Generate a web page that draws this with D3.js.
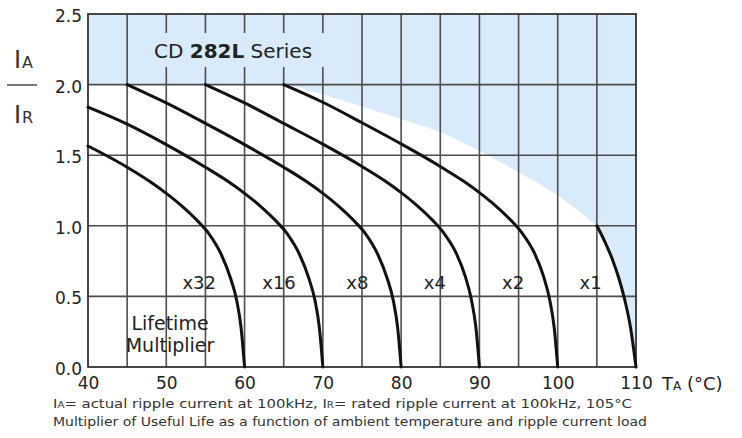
<!DOCTYPE html>
<html>
<head>
<meta charset="utf-8">
<script src="https://cdn.jsdelivr.net/npm/d3@7/dist/d3.min.js"></script>
<style>
  html, body { margin: 0; padding: 0; background: #fff; }
  svg { display: block; font-family: "DejaVu Sans", sans-serif; }
</style>
</head>
<body>
<svg id="chart" width="742" height="438"></svg>
<script>
// ---- data ----
const tempTicks = [40, 50, 60, 70, 80, 90, 100, 110];
const tempGrid = [45, 50, 55, 60, 65, 70, 75, 80, 85, 90, 95, 100, 105];
const ratioTicks = [0.0, 0.5, 1.0, 1.5, 2.0, 2.5];
const ratioGrid = [0.5, 1.0, 1.5, 2.0];

const multipliers = ["x32", "x16", "x8", "x4", "x2", "x1"];
const labelTemps = [54.2, 64.4, 74.4, 84.3, 94.3, 104.2];
const labelRatio = 0.6;

// curves: [temperature °C, IA/IR]
const curveX32 = [[40,1.565],[45,1.415],[48,1.31],[50,1.23],[52,1.14],[54,1.035],[55.5,0.94],[57,0.8],[58.2,0.63],[59,0.47],[59.55,0.28],[60,0]];
const curveX16 = [[40,1.84],[45,1.72],[50,1.575],[55,1.415],[58,1.31],[60,1.23],[62,1.14],[64,1.035],[65.5,0.94],[67,0.8],[68.2,0.63],[69,0.47],[69.55,0.28],[70,0]];
const curveX8  = [[45,2.0],[50,1.87],[55,1.725],[60,1.575],[65,1.415],[68,1.31],[70,1.23],[72,1.14],[74,1.035],[75.5,0.94],[77,0.8],[78.2,0.63],[79,0.47],[79.55,0.28],[80,0]];
const curveX4  = [[55,2.0],[60,1.87],[65,1.725],[70,1.578],[75,1.42],[78,1.315],[80,1.235],[82,1.145],[84,1.04],[85.5,0.945],[87,0.81],[88.2,0.64],[89,0.47],[89.55,0.28],[90,0]];
const curveX2  = [[65,2.0],[70,1.875],[75,1.73],[80,1.58],[85,1.42],[88,1.315],[90,1.235],[92,1.145],[94,1.04],[95.5,0.945],[97,0.81],[98.2,0.64],[99,0.47],[99.55,0.28],[100,0]];
const curveX1  = [[105,1.0],[106,0.89],[107,0.76],[107.8,0.63],[108.5,0.49],[109.3,0.28],[110,0]];
const curves = [curveX32, curveX16, curveX8, curveX4, curveX2, curveX1];

// upper boundary of the white (permitted) area
const envelope = [[65.5,2.0],[70,1.93],[75,1.845],[80,1.757],[85,1.663],[90,1.53],[95,1.38],[100,1.215],[105,1.0]];

// ---- drawing ----
const svg = d3.select("#chart");
const x = d3.scaleLinear().domain([40, 110]).range([88, 636]);
const y = d3.scaleLinear().domain([0, 2.5]).range([367, 14]);

const blue = "#d9ebfb";
const gridColor = "#4d4d4d";
const g = svg.append("g");

// shaded region: above 2.0, above the envelope and right of the x1 curve
const smooth = d3.line().x(d => x(d[0])).y(d => y(d[1])).curve(d3.curveMonotoneX);
const envPath = smooth(envelope);
const x1Path = smooth(curveX1);
g.append("path")
  .attr("d", "M" + x(40) + "," + y(2.0) + envPath.replace(/^M/, "L") + x1Path.replace(/^M/, "L") +
    "L" + x(110) + "," + y(0) + "L" + x(110) + "," + y(2.5) + "L" + x(40) + "," + y(2.5) + "Z")
  .attr("fill", blue);

// grid
g.append("g").selectAll("line").data(tempGrid).join("line")
  .attr("x1", d => x(d)).attr("x2", d => x(d))
  .attr("y1", y(2.5)).attr("y2", y(0))
  .attr("stroke", gridColor).attr("stroke-width", 1.6);
g.append("g").selectAll("line").data(ratioGrid).join("line")
  .attr("x1", x(40)).attr("x2", x(110))
  .attr("y1", d => y(d)).attr("y2", d => y(d))
  .attr("stroke", gridColor).attr("stroke-width", 1.6);
g.append("rect")
  .attr("x", x(40)).attr("y", y(2.5))
  .attr("width", x(110) - x(40)).attr("height", y(0) - y(2.5))
  .attr("fill", "none").attr("stroke", "#333").attr("stroke-width", 1.8);

// title with background patch
g.append("rect").attr("x", 137).attr("y", 33).attr("width", 197).attr("height", 34).attr("fill", blue);
const title = g.append("text").attr("x", 154).attr("y", 58)
  .attr("font-size", 20).attr("fill", "#222");
title.append("tspan").text("CD ");
title.append("tspan").attr("font-weight", "bold").text("282L");
title.append("tspan").text(" Series");

// curves
const line = d3.line().x(d => x(d[0])).y(d => y(d[1])).curve(d3.curveMonotoneX);
g.append("g").selectAll("path").data(curves).join("path")
  .attr("d", line)
  .attr("fill", "none").attr("stroke", "#111").attr("stroke-width", 3)
  .attr("stroke-linecap", "round");

// multiplier labels
g.append("g").selectAll("text").data(multipliers).join("text")
  .attr("x", (d, i) => x(labelTemps[i]))
  .attr("y", y(labelRatio))
  .attr("dy", "0.35em")
  .attr("text-anchor", "middle")
  .attr("font-size", 18).attr("fill", "#222")
  .text(d => d);

// Lifetime Multiplier
g.append("text").attr("x", 170).attr("y", 330).attr("text-anchor", "middle")
  .attr("font-size", 19).attr("fill", "#222").text("Lifetime");
g.append("text").attr("x", 170).attr("y", 352).attr("text-anchor", "middle")
  .attr("font-size", 19).attr("fill", "#222").text("Multiplier");

// axes (labels only)
const xAxis = svg.append("g").attr("transform", `translate(0,${y(0)})`)
  .call(d3.axisBottom(x).tickValues(tempTicks).tickSize(0).tickPadding(10).tickFormat(d3.format("d")));
xAxis.select(".domain").remove();
xAxis.selectAll("text").attr("font-size", 17).attr("fill", "#222").attr("font-family", "DejaVu Sans");

const yAxis = svg.append("g").attr("transform", `translate(${x(40)},0)`)
  .call(d3.axisLeft(y).tickValues(ratioTicks).tickSize(0).tickPadding(6).tickFormat(d3.format(".1f")));
yAxis.select(".domain").remove();
yAxis.selectAll("text").attr("font-size", 17).attr("fill", "#222").attr("font-family", "DejaVu Sans")
  .attr("transform", "translate(0,2)");

// y axis title: IA / IR
const yt1 = svg.append("text").attr("x", 14).attr("y", 68).attr("fill", "#333");
yt1.append("tspan").attr("font-size", 24).text("I");
yt1.append("tspan").attr("font-size", 16).attr("dx", 1).text("A");
svg.append("line").attr("x1", 7).attr("x2", 37).attr("y1", 85).attr("y2", 85)
  .attr("stroke", "#777").attr("stroke-width", 2);
const yt2 = svg.append("text").attr("x", 14).attr("y", 123).attr("fill", "#333");
yt2.append("tspan").attr("font-size", 24).text("I");
yt2.append("tspan").attr("font-size", 16).attr("dx", 1).text("R");

// x axis title
const xt = svg.append("text").attr("x", 662).attr("y", 390).attr("fill", "#222");
xt.append("tspan").attr("font-size", 18).text("T");
xt.append("tspan").attr("font-size", 12).text("A");
xt.append("tspan").attr("font-size", 18).text(" (°C)");

// footer notes
const f1 = svg.append("text").attr("x", 53).attr("y", 408).attr("font-size", 13).attr("fill", "#333")
  .attr("textLength", 579).attr("lengthAdjust", "spacingAndGlyphs");
f1.append("tspan").text("I");
f1.append("tspan").attr("font-size", 9).text("A");
f1.append("tspan").text("= actual ripple current at 100kHz, I");
f1.append("tspan").attr("font-size", 9).text("R");
f1.append("tspan").text("= rated ripple current at 100kHz, 105°C");
svg.append("text").attr("x", 53).attr("y", 426).attr("font-size", 13).attr("fill", "#333")
  .attr("textLength", 594).attr("lengthAdjust", "spacingAndGlyphs")
  .text("Multiplier of Useful Life as a function of ambient temperature and ripple current load");
</script>
</body>
</html>
